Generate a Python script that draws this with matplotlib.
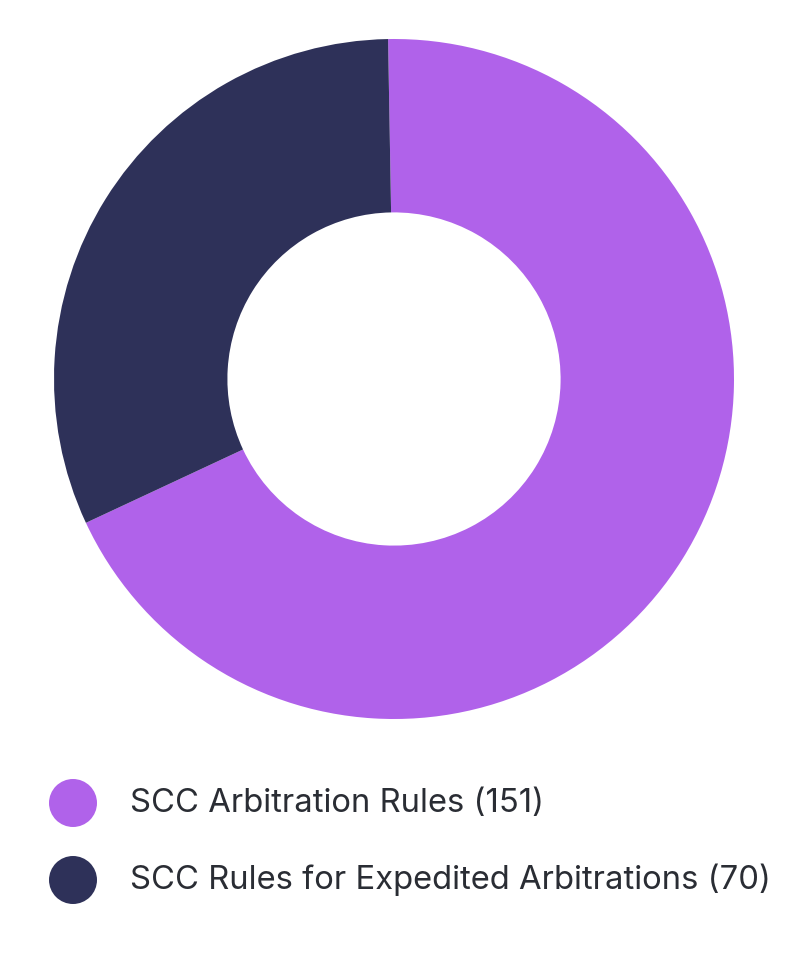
import matplotlib.pyplot as plt

labels = ['SCC Arbitration Rules (151)', 'SCC Rules for Expedited Arbitrations (70)']
values = [151, 70]
colors = ['#b062ea', '#2e3159']

W, H = 804, 956

fig = plt.figure(figsize=(W / 100, H / 100), dpi=100)

# donut
ax = fig.add_axes([54 / W, 1 - 719 / H, 680 / W, 680 / H])
ax.pie(values, colors=colors, startangle=91, counterclock=False, radius=1,
       wedgeprops=dict(width=0.51, edgecolor='none'))
ax.set_xlim(-1, 1)
ax.set_ylim(-1, 1)
ax.set_aspect('equal')
ax.axis('off')

# legend, pixel coordinates
lax = fig.add_axes([0, 0, 1, 1])
lax.set_xlim(0, W)
lax.set_ylim(H, 0)
lax.axis('off')
for i, (lab, c) in enumerate(zip(labels, colors)):
    y = 803 + i * 77
    lax.scatter([73], [y], s=1194, color=c, edgecolors='none')
    lax.text(130, y, lab, fontsize=23.6, family=['Inter', 'DejaVu Sans'],
             color='#2a2d34', va='center', ha='left')

fig.savefig('out.png', dpi=100, facecolor='white')
